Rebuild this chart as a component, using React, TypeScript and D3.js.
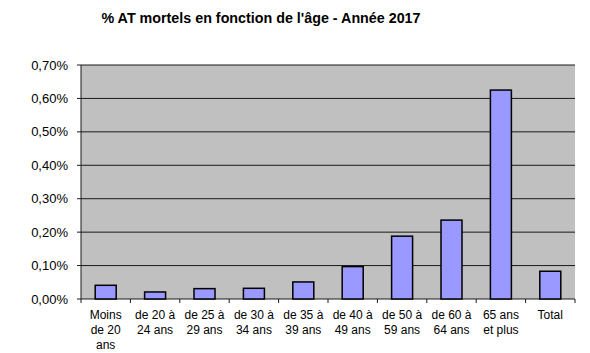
import * as d3 from "d3";

const categories: string[][] = [
     ["Moins", "de 20", "ans"],
     ["de 20 à", "24 ans"],
     ["de 25 à", "29 ans"],
     ["de 30 à", "34 ans"],
     ["de 35 à", "39 ans"],
     ["de 40 à", "49 ans"],
     ["de 50 à", "59 ans"],
     ["de 60 à", "64 ans"],
     ["65 ans", "et plus"],
     ["Total"],
]
const values: number[] = [0.041, 0.021, 0.031, 0.032, 0.051, 0.097, 0.188, 0.236, 0.625, 0.083]
const yTicks: number[] = [0, 0.1, 0.2, 0.3, 0.4, 0.5, 0.6, 0.7]
const title = "% AT mortels en fonction de l'âge - Année 2017"

const App = () => {
     const width = 590
     const height = 353
     const margin = { top: 65, left: 81, right: 15, bottom: 54 }
     const plotW = width - margin.left - margin.right
     const plotH = height - margin.top - margin.bottom

     const xScale = d3.scaleBand<number>()
          .domain(values.map((_, i) => i))
          .range([0, plotW])
          .paddingInner(0.575)
          .paddingOuter(0.2875)
     const step = xScale.step()
     const yScale = d3.scaleLinear()
          .domain([0, 0.7])
          .range([plotH, 0])
     const fmt = (v: number) => v.toFixed(2).replace(".", ",") + "%"

     return (
          <svg width={width} height={height} style={{ position: "absolute", left: 0, top: 0, fontFamily: "Arial, 'Liberation Sans', sans-serif" }}>
               <rect width={width} height={height} fill="#ffffff" />
               <text x={261} y={23} textAnchor="middle" fontSize={14.3} fontWeight="bold" fill="#000">{title}</text>
               <g transform={`translate(${margin.left},${margin.top})`}>
                    <rect width={plotW} height={plotH} fill="#c0c0c0" />
                    {yTicks.map(t => (
                         <g key={t}>
                              <line x1={0} x2={plotW} y1={yScale(t)} y2={yScale(t)} stroke="#1a1a1a" strokeWidth={1} />
                              <line x1={-4} x2={0} y1={yScale(t)} y2={yScale(t)} stroke="#1a1a1a" strokeWidth={1} />
                              <text x={-13} y={yScale(t)} dy="0.35em" textAnchor="end" fontSize={13} fill="#000">{fmt(t)}</text>
                         </g>
                    ))}
                    <line x1={0} x2={0} y1={0} y2={plotH} stroke="#1a1a1a" strokeWidth={1} />
                    {values.map((v, i) => (
                         <rect key={i}
                              x={xScale(i)}
                              y={yScale(v)}
                              width={xScale.bandwidth()}
                              height={plotH - yScale(v)}
                              fill="#9999ff"
                              stroke="#000"
                              strokeWidth={1.5}
                         />
                    ))}
                    {d3.range(values.length + 1).map(i => (
                         <line key={i} x1={i * step} x2={i * step} y1={plotH} y2={plotH + 4} stroke="#1a1a1a" strokeWidth={1} />
                    ))}
                    {categories.map((lines, i) => (
                         <text key={i} textAnchor="middle" fontSize={12} fill="#000">
                              {lines.map((l, j) => (
                                   <tspan key={j} x={(xScale(i) ?? 0) + xScale.bandwidth() / 2} y={plotH + 20 + j * 15}>{l}</tspan>
                              ))}
                         </text>
                    ))}
               </g>
          </svg>
     )
}

export default App
